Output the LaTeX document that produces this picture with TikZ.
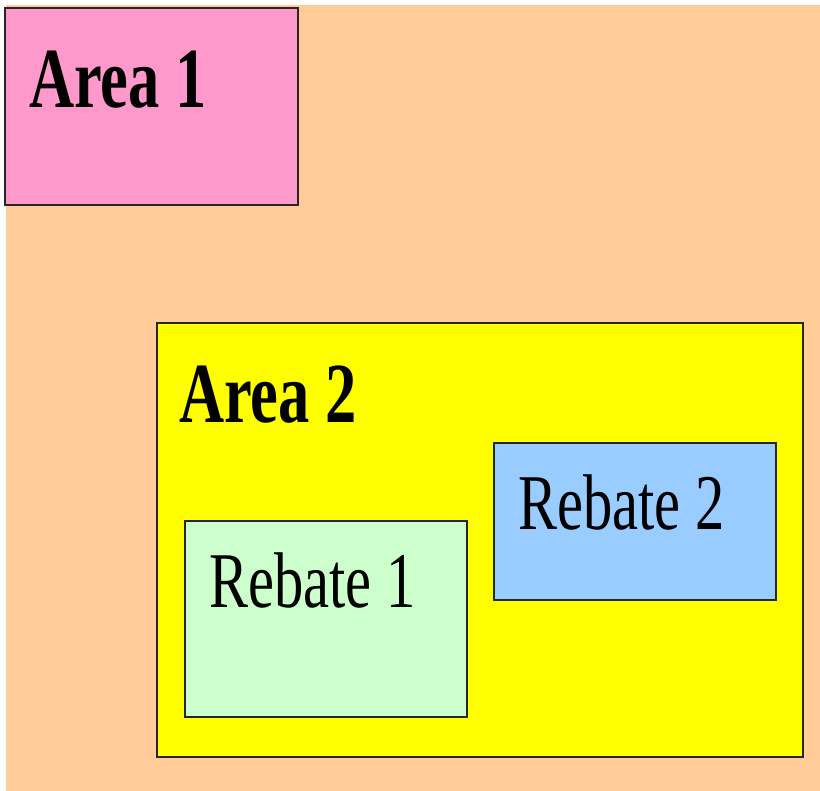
\documentclass[tikz,border=0pt]{standalone}
\usepackage{fontspec}
\setmainfont{Liberation Serif}
\definecolor{peach}{HTML}{FFCC99}
\definecolor{pinkbox}{HTML}{FF99CC}
\definecolor{yellowbox}{HTML}{FFFF00}
\definecolor{greenbox}{HTML}{CCFFCC}
\definecolor{bluebox}{HTML}{99CCFF}
\tikzset{
  areabox/.style={draw=black!85, line width=2.5pt},
  bigtxt/.style={anchor=base west, inner sep=0pt, font=\fontsize{62.5}{62.5}\selectfont\bfseries},
  smalltxt/.style={anchor=base west, inner sep=0pt, font=\fontsize{58.5}{58.5}\selectfont},
}
\begin{document}
\begin{tikzpicture}[x=1pt,y=-1pt]
\useasboundingbox (0,0) rectangle (820,791);
\fill[white] (0,0) rectangle (820,791);
\fill[peach] (6,5) rectangle (820,791);
\draw[areabox, fill=pinkbox] (5,8) rectangle (298,205);
\draw[areabox, fill=yellowbox] (157,323) rectangle (803,757);
\draw[areabox, fill=greenbox] (185,521) rectangle (467,717);
\draw[areabox, fill=bluebox] (494,443) rectangle (776,600);
\node[bigtxt] (a1) at (29,108) {\scalebox{1}[1.37]{Area 1}};
\node[bigtxt] (a2) at (179,423) {\scalebox{1}[1.37]{Area 2}};
\node[smalltxt] (r1) at (209,608) {\scalebox{1}[1.35]{Rebate 1}};
\node[smalltxt] (r2) at (518,530) {\scalebox{1}[1.35]{Rebate 2}};
\end{tikzpicture}
\end{document}
